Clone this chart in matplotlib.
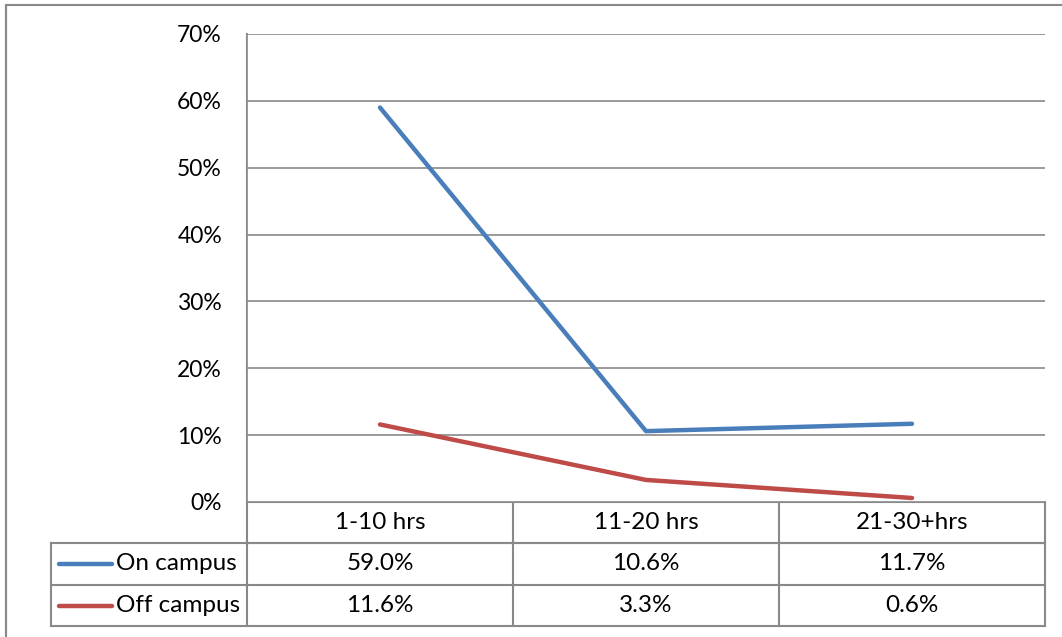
import matplotlib
matplotlib.use("Agg")
import matplotlib.pyplot as plt

# data
categories = ["1-10 hrs", "11-20 hrs", "21-30+hrs"]
series_names = ["On campus", "Off campus"]
on_campus = [59.0, 10.6, 11.7]
off_campus = [11.6, 3.3, 0.6]
y_ticks = [0, 10, 20, 30, 40, 50, 60, 70]

colors = ["#4A7EBB", "#BE4B48"]
grid_c = "#898989"
plt.rcParams["font.family"] = ["Lato", "DejaVu Sans"]
fs = 16.5
fs_tab = 17.5

W, H = 1062, 637
fig = plt.figure(figsize=(W / 100, H / 100), dpi=100)

# plot area in pixel coords
px0, px1, py0, py1 = 247, 1045, 34, 502
ax = fig.add_axes([px0 / W, 1 - py1 / H, (px1 - px0) / W, (py1 - py0) / H])
n = len(categories)
ax.set_xlim(-0.5, n - 0.5)
ax.set_ylim(0, 70)
for yv in y_ticks:
    ax.axhline(yv, color=grid_c, lw=1.2, zorder=0)
x = list(range(n))
ax.plot(x, on_campus, color=colors[0], lw=3.2, solid_capstyle="round", zorder=3)
ax.plot(x, off_campus, color=colors[1], lw=3.2, solid_capstyle="round", zorder=3)
ax.set_yticks(y_ticks)
ax.set_yticklabels([f"{v}%" for v in y_ticks], fontsize=fs)
ax.tick_params(axis="y", length=0, pad=18)
ax.set_xticks([])
for s in ["top", "right", "bottom"]:
    ax.spines[s].set_visible(False)
ax.spines["left"].set_color(grid_c)
ax.spines["left"].set_linewidth(1.2)

# overlay for table and border
ov = fig.add_axes([0, 0, 1, 1], zorder=-1)
ov.set_xlim(0, W)
ov.set_ylim(H, 0)
ov.axis("off")
ov.patch.set_alpha(0)

lc = dict(color=grid_c, lw=1.5)
# outer border
ov.plot([6, 6, W + 5], [H - 5, 5, 5], **lc)
ov.plot([6, 6], [5, H], **lc)

r0, r1, r2, r3 = 502, 543, 585, 626
lx = 51
colw = (px1 - px0) / n
# horizontal lines
ov.plot([px0, px1], [r0, r0], **lc)
ov.plot([px0, px1], [r1, r1], **lc)
ov.plot([lx, px1], [r1, r1], **lc)
ov.plot([lx, px1], [r2, r2], **lc)
ov.plot([lx, px1], [r3, r3], **lc)
# vertical lines
ov.plot([lx, lx], [r1, r3], **lc)
ov.plot([px0, px0], [py0, r3], **lc)
for i in range(1, n + 1):
    xv = px0 + colw * i
    ov.plot([xv, xv], [r0, r3], **lc)

for i, c in enumerate(categories):
    ov.text(px0 + colw * (i + 0.5), (r0 + r1) / 2, c, ha="center", va="center", fontsize=fs_tab)
rows = [on_campus, off_campus]
ys = [(r1 + r2) / 2, (r2 + r3) / 2]
for name, vals, col, yy in zip(series_names, rows, colors, ys):
    ov.plot([59, 112], [yy, yy], color=col, lw=3.2, solid_capstyle="round")
    ov.text(116, yy, name, ha="left", va="center", fontsize=fs_tab)
    for i, v in enumerate(vals):
        ov.text(px0 + colw * (i + 0.5), yy, f"{v:.1f}%", ha="center", va="center", fontsize=fs_tab)

fig.savefig("out.png", dpi=100)
